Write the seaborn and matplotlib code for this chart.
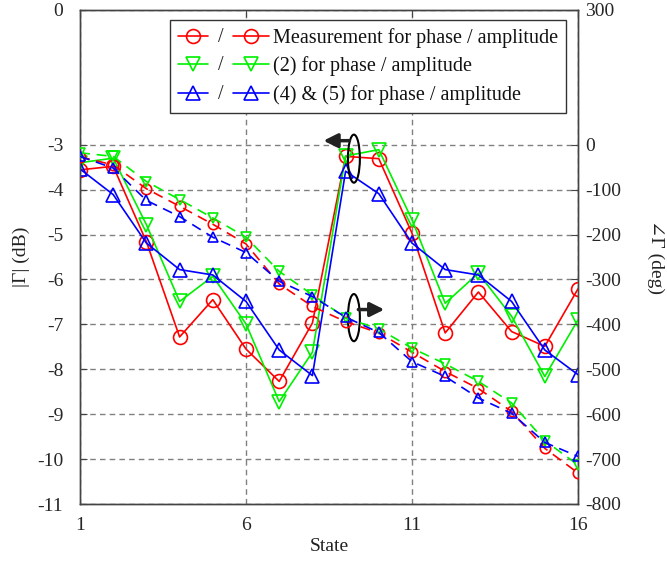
import numpy as np
import pandas as pd
import seaborn as sns
import matplotlib
matplotlib.use("Agg")
import matplotlib.pyplot as plt
from matplotlib.patches import Ellipse
from matplotlib.legend_handler import HandlerBase
from matplotlib.lines import Line2D
from matplotlib.text import Text

# ---------------- data ----------------
states = list(range(1, 17))

red_amp = [-3.56, -3.48, -5.16, -7.28, -6.45, -7.55, -8.27, -6.97,
           -3.26, -3.31, -4.97, -7.19, -6.28, -7.16, -7.49, -6.21]
green_amp = [-3.40, -3.30, -4.78, -6.49, -5.93, -6.99, -8.72, -7.62,
             -3.25, -3.11, -4.67, -6.53, -5.86, -6.82, -8.16, -6.90]
blue_amp = [-3.54, -4.11, -5.19, -5.78, -5.90, -6.49, -7.57, -8.14,
            -3.59, -4.09, -5.19, -5.78, -5.90, -6.49, -7.57, -8.12]

red_phase = [-27, -45, -98, -137, -177, -221, -310, -360,
             -394, -419, -462, -505, -543, -594, -676, -731]
green_phase = [-18, -26, -82, -122, -163, -206, -282, -334,
               -386, -410, -453, -488, -527, -575, -659, -713]
blue_phase = [-26, -52, -124, -160, -206, -240, -304, -338,
              -384, -418, -483, -516, -564, -598, -663, -694]

labels = ["Measurement for phase / amplitude",
          "(2) for phase / amplitude",
          "(4) & (5) for phase / amplitude"]
colors = ["#ff0000", "#00f000", "#0000ff"]
markers = ["o", "v", "^"]

xticks = [1, 6, 11, 16]
left_ticks = [0, -3, -4, -5, -6, -7, -8, -9, -10, -11]
right_ticks = [300, 0, -100, -200, -300, -400, -500, -600, -700, -800]

# ---------------- style ----------------
sns.set_style("white")
plt.rcParams["font.family"] = ["Liberation Serif", "DejaVu Serif"]
plt.rcParams["font.size"] = 14

fig = plt.figure(figsize=(6.67, 5.65), dpi=100)
ax = fig.add_axes([80 / 667, 1 - 504 / 565, 498 / 667, 494 / 565])
ax2 = ax.twinx()

amps = [red_amp, green_amp, blue_amp]
phases = [red_phase, green_phase, blue_phase]

LW = 1.2
MS = 10
DASH = (0, (6, 4))

for amp, col, mk in zip(amps, colors, markers):
    df = pd.DataFrame({"state": states, "val": amp})
    sns.lineplot(data=df, x="state", y="val", ax=ax, color=col, marker=mk,
                 markersize=MS, markerfacecolor="none", markeredgecolor=col,
                 markeredgewidth=1.2, linewidth=LW, legend=False, zorder=3)

for ph, col, mk in zip(phases, colors, markers):
    df = pd.DataFrame({"state": states, "val": ph})
    sns.lineplot(data=df, x="state", y="val", ax=ax2, color=col, marker=mk,
                 markersize=MS * 0.75, markerfacecolor="none", markeredgecolor=col,
                 markeredgewidth=1.2, linewidth=LW, linestyle=DASH,
                 legend=False, zorder=3)

# axes setup
ax.set_xlim(1, 16)
ax.set_ylim(-11, 0)
ax2.set_ylim(-800, 300)
ax.set_xticks(xticks)
ax.set_yticks(left_ticks)
ax2.set_yticks(right_ticks)
ax.set_yticklabels([str(t) for t in left_ticks])
ax2.set_yticklabels([str(t) for t in right_ticks])

ax.grid(True, color="#808080", linestyle=(0, (4, 3)), linewidth=1.0)
ax2.grid(False)
ax.set_axisbelow(True)

for a in (ax, ax2):
    for sp in a.spines.values():
        sp.set_color("#444444")
        sp.set_linewidth(1.0)
        sp.set_visible(True)

ax.tick_params(axis="both", direction="in", length=5, color="#444444",
               labelsize=14, top=True, right=False)
ax.tick_params(axis="y", pad=12)
ax.tick_params(axis="x", pad=9)
ax2.tick_params(axis="y", direction="in", length=5, color="#444444",
                labelsize=14, pad=5)

ax.set_xlabel("State", fontsize=14, labelpad=3, color="#222222")
ax.set_ylabel("|Γ| (dB)", fontsize=14, labelpad=5, color="#222222")
ax2.set_ylabel("∠Γ (deg)", fontsize=14, rotation=270, va="bottom",
               labelpad=19, color="#222222")

# ellipse + arrow annotations
ax.add_patch(Ellipse((9.25, -3.31), 0.36, 1.07, fill=False, edgecolor="black",
                     linewidth=1.5, zorder=5))
ax.annotate("", xy=(8.25, -2.91), xytext=(9.2, -2.91),
            arrowprops=dict(arrowstyle="-|>,head_length=0.6,head_width=0.3",
                            color="#222222", lw=2.5), zorder=5)
ax.add_patch(Ellipse((9.25, -6.85), 0.36, 1.05, fill=False, edgecolor="black",
                     linewidth=1.5, zorder=5))
ax.annotate("", xy=(10.25, -6.67), xytext=(9.3, -6.67),
            arrowprops=dict(arrowstyle="-|>,head_length=0.6,head_width=0.3",
                            color="#222222", lw=2.5), zorder=5)


# ---------------- legend ----------------
class Pair:
    def __init__(self, color, marker):
        self.color = color
        self.marker = marker


class PairHandler(HandlerBase):
    def create_artists(self, legend, orig_handle, xdescent, ydescent,
                       width, height, fontsize, trans):
        y = height / 2 - ydescent
        x0 = -xdescent
        c, m = orig_handle.color, orig_handle.marker
        s1 = (x0, x0 + 0.33 * width)
        s2 = (x0 + 0.6 * width, x0 + width)
        arts = []
        for (a, b) in (s1, s2):
            ln = Line2D([a, b], [y, y], color=c, linewidth=LW, linestyle="-",
                        transform=trans)
            mk = Line2D([(a + b) / 2], [y], color=c, marker=m, markersize=MS,
                        markerfacecolor="none", markeredgecolor=c,
                        markeredgewidth=1.2, linestyle="none", transform=trans)
            arts += [ln, mk]
        t = Text(x0 + 0.47 * width, y - 0.3 * fontsize, "/", ha="center",
                 va="baseline", fontsize=fontsize, transform=trans,
                 color="#222222")
        arts.append(t)
        return arts


handles = [Pair(c, m) for c, m in zip(colors, markers)]
leg = ax2.legend(handles, labels, handler_map={Pair: PairHandler()},
                 loc="upper right", bbox_to_anchor=(0.976, 0.98),
                 fontsize=14.5, handlelength=4.5, handletextpad=0.2,
                 labelspacing=0.43, borderpad=0.4, borderaxespad=0,
                 fancybox=False, framealpha=1, edgecolor="#333333")
leg.get_frame().set_linewidth(1.0)
for t in leg.get_texts():
    t.set_color("#111111")

fig.savefig("out.png", dpi=100)
